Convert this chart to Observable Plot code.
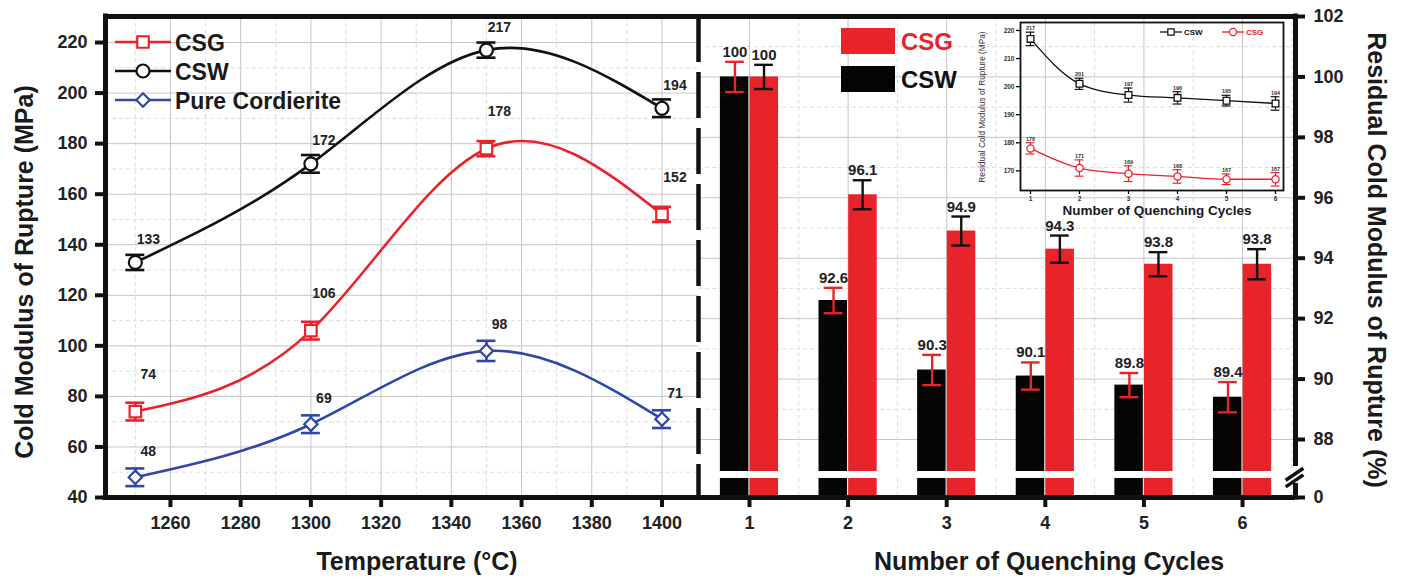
<!DOCTYPE html>
<html><head><meta charset="utf-8">
<script src="https://cdn.jsdelivr.net/npm/d3@7"></script>
<script src="https://cdn.jsdelivr.net/npm/@observablehq/plot@0.6"></script>
<style>
body{margin:0;background:#fff;}
#wrap{position:relative;width:1403px;height:582px;overflow:hidden;background:#fff;}
#wrap > svg{position:absolute;overflow:visible;}
</style></head><body><div id="wrap"></div>
<script>
// ---------- Left panel data: Cold modulus of rupture vs temperature ----------
const temperatures = [1250, 1300, 1350, 1400];
const csgStrength = [74, 106, 178, 152];
const csgStrengthErr = [3.5, 3.5, 3, 3];
const cswStrength = [133, 172, 217, 194];
const cswStrengthErr = [3, 3.5, 3, 3.5];
const pureStrength = [48, 69, 98, 71];
const pureStrengthErr = [3.5, 3.5, 4, 3.5];
const tempTicks = [1260, 1280, 1300, 1320, 1340, 1360, 1380, 1400];
const strengthTicks = [40, 60, 80, 100, 120, 140, 160, 180, 200, 220];

// ---------- Right panel data: residual CMOR (%) vs quenching cycles ----------
const cycles = [1, 2, 3, 4, 5, 6];
const cswResidual = [100, 92.6, 90.3, 90.1, 89.8, 89.4];
const cswResidualErr = [0.5, 0.42, 0.5, 0.45, 0.4, 0.5];
const csgResidual = [100, 96.1, 94.9, 94.3, 93.8, 93.8];
const csgResidualErr = [0.4, 0.48, 0.48, 0.45, 0.4, 0.5];
const residualTicks = [88, 90, 92, 94, 96, 98, 100, 102];
const residualZero = 86.08;           // where the broken axis shows "0"
const residualBreak = [86.71, 86.94]; // axis-break band

// ---------- Inset data: residual CMOR (MPa) vs quenching cycles ----------
const cswInset = [217, 201, 197, 196, 195, 194];
const cswInsetErr = [2.4, 2, 2.5, 2.2, 1.9, 2.4];
const csgInset = [178, 171, 169, 168, 167, 167];
const csgInsetErr = [2, 2.9, 2.8, 2.4, 1.9, 2.4];
const insetTicks = [170, 180, 190, 200, 210, 220];

// ---------- styles ----------
const FONT = '"Liberation Sans", Arial, sans-serif';
const RED = "#e8232a", BLUE = "#2f47a6", BLACK = "#111111", GRID = "#c6c6c6", GRID2 = "#dedede";
const wrap = document.getElementById("wrap");
const plain = d => String(d);
function place(svg, left, top) { svg.style.left = left + "px"; svg.style.top = top + "px"; wrap.appendChild(svg); }

// ================= LEFT PANEL =================
const leftX = [1241.5, 1410.4], leftY = [40, 230.3];
const leftSeries = [
  {name: "CSG", values: csgStrength, errors: csgStrengthErr, color: RED, symbol: "square", r: 6.5, labelDy: -37},
  {name: "CSW", values: cswStrength, errors: cswStrengthErr, color: BLACK, symbol: "circle", r: 6.5, labelDy: -23},
  {name: "Pure Cordierite", values: pureStrength, errors: pureStrengthErr, color: BLUE, symbol: "diamond2", r: 6, labelDy: -26}
];
const leftMarks = [
  Plot.ruleX(tempTicks.map(t => t - 10), {stroke: GRID2, strokeDasharray: "4,3"}),
  Plot.ruleY(strengthTicks.map(v => v + 10).filter(v => v < leftY[1]), {stroke: GRID2, strokeDasharray: "4,3"}),
  Plot.ruleX(tempTicks, {stroke: GRID}),
  Plot.ruleY(strengthTicks.slice(1), {stroke: GRID})
];
for (const s of leftSeries) {
  const rows = temperatures.map((t, i) => ({t, v: s.values[i], e: s.errors[i]}));
  leftMarks.push(
    Plot.line(rows, {x: "t", y: "v", stroke: s.color, strokeWidth: 2.6, curve: "natural"}),
    Plot.ruleX(rows, {x: "t", y1: d => d.v - d.e, y2: d => d.v + d.e, stroke: s.color, strokeWidth: 2.6}),
    Plot.ruleY(rows, {y: d => d.v + d.e, x1: d => d.t - 2.7, x2: d => d.t + 2.7, stroke: s.color, strokeWidth: 2.6}),
    Plot.ruleY(rows, {y: d => d.v - d.e, x1: d => d.t - 2.7, x2: d => d.t + 2.7, stroke: s.color, strokeWidth: 2.6}),
    Plot.dot(rows, {x: "t", y: "v", symbol: s.symbol, r: s.r, stroke: s.color, fill: "white", strokeWidth: 2.2}),
    Plot.text(rows, {x: "t", y: "v", text: d => String(d.v), dx: 13, dy: s.labelDy, fontSize: 14, fontWeight: "bold", fill: "#222"})
  );
}
leftMarks.push(
  Plot.ruleX([leftX[1]], {stroke: BLACK, strokeWidth: 4.5, strokeDasharray: "46,10"}),
  Plot.ruleY([leftY[1]], {stroke: BLACK, strokeWidth: 5}),
  Plot.ruleY([leftY[0]], {stroke: BLACK, strokeWidth: 5, strokeLinecap: "square"}),
  Plot.ruleX([leftX[0]], {stroke: BLACK, strokeWidth: 5, strokeLinecap: "square"}),
  Plot.axisY(strengthTicks, {tickSize: 10, tickPadding: 8, strokeWidth: 4, stroke: BLACK, fontSize: 18, fontWeight: "bold", fill: "#222", tickFormat: plain, label: null}),
  Plot.axisX(tempTicks, {tickSize: 10, tickPadding: 9, strokeWidth: 4, stroke: BLACK, fontSize: 18, fontWeight: "bold", fill: "#222", tickFormat: plain, label: null})
);
const left = Plot.plot({
  width: 700, height: 582, marginLeft: 105, marginRight: 2, marginTop: 16, marginBottom: 85,
  x: {domain: leftX}, y: {domain: leftY},
  style: {fontFamily: FONT, background: "transparent", overflow: "visible"},
  marks: leftMarks
});

// ================= RIGHT PANEL =================
const rightX = [0.483, 6.537], rightY = [residualZero, 102];
const barRows = cycles.map((c, i) => ({c, csw: cswResidual[i], cswE: cswResidualErr[i], csg: csgResidual[i], csgE: csgResidualErr[i]}));
const bw = 0.295, cap = 0.095;
const right = Plot.plot({
  width: 705, height: 582, marginLeft: 0, marginRight: 108, marginTop: 16, marginBottom: 85,
  x: {domain: rightX}, y: {domain: rightY},
  style: {fontFamily: FONT, background: "transparent", overflow: "visible"},
  marks: [
    Plot.ruleY(residualTicks.slice(0, -1).map(v => v + 1), {stroke: GRID2, strokeDasharray: "4,3"}),
    Plot.ruleX(cycles.map(c => c + 0.5), {stroke: GRID2, strokeDasharray: "4,3"}),
    Plot.ruleY(residualTicks.slice(0, -1), {stroke: GRID}),
    Plot.ruleX(cycles, {stroke: GRID}),
    Plot.rectY(barRows, {x1: d => d.c - bw, x2: d => d.c - 0.006, y1: residualZero, y2: "csw", fill: "#050505"}),
    Plot.rectY(barRows, {x1: d => d.c + 0.006, x2: d => d.c + bw, y1: residualZero, y2: "csg", fill: RED}),
    Plot.rect([residualBreak], {x1: rightX[0], x2: rightX[1], y1: d => d[0], y2: d => d[1], fill: "white"}),
    // error bars: red on CSW bars, black on CSG bars
    Plot.ruleX(barRows, {x: d => d.c - bw / 2, y1: d => d.csw - d.cswE, y2: d => d.csw + d.cswE, stroke: RED, strokeWidth: 2.4}),
    Plot.ruleY(barRows, {y: d => d.csw + d.cswE, x1: d => d.c - bw / 2 - cap, x2: d => d.c - bw / 2 + cap, stroke: RED, strokeWidth: 2.4}),
    Plot.ruleY(barRows, {y: d => d.csw - d.cswE, x1: d => d.c - bw / 2 - cap, x2: d => d.c - bw / 2 + cap, stroke: RED, strokeWidth: 2.4}),
    Plot.ruleX(barRows, {x: d => d.c + bw / 2, y1: d => d.csg - d.csgE, y2: d => d.csg + d.csgE, stroke: BLACK, strokeWidth: 2.4}),
    Plot.ruleY(barRows, {y: d => d.csg + d.csgE, x1: d => d.c + bw / 2 - cap, x2: d => d.c + bw / 2 + cap, stroke: BLACK, strokeWidth: 2.4}),
    Plot.ruleY(barRows, {y: d => d.csg - d.csgE, x1: d => d.c + bw / 2 - cap, x2: d => d.c + bw / 2 + cap, stroke: BLACK, strokeWidth: 2.4}),
    Plot.text(barRows, {x: d => d.c - bw / 2, y: d => d.csw + d.cswE, text: d => String(d.csw), dy: -5, lineAnchor: "bottom", fontSize: 15, fontWeight: "bold", fill: "#222"}),
    Plot.text(barRows, {x: d => d.c + bw / 2, y: d => d.csg + d.csgE, text: d => String(d.csg), dy: -5, lineAnchor: "bottom", fontSize: 15, fontWeight: "bold", fill: "#222"}),
    // frame
    Plot.ruleY([rightY[1]], {stroke: BLACK, strokeWidth: 5}),
    Plot.ruleY([rightY[0]], {stroke: BLACK, strokeWidth: 5}),
    Plot.ruleX([rightX[1]], {y1: residualBreak[1] + 0.25, y2: rightY[1], stroke: BLACK, strokeWidth: 5, strokeLinecap: "square"}),
    Plot.ruleX([rightX[1]], {y1: rightY[0], y2: residualBreak[0] - 0.25, stroke: BLACK, strokeWidth: 5, strokeLinecap: "square"}),
    // axis-break slashes
    Plot.link([0, 1], {x1: rightX[1] - 0.1, x2: rightX[1] + 0.08, y1: d => residualBreak[0] - 0.28 + d * 0.22, y2: d => residualBreak[0] + 0.12 + d * 0.22, stroke: BLACK, strokeWidth: 3.5}),
    Plot.axisY([residualZero, ...residualTicks], {anchor: "right", tickSize: 9, tickPadding: 9, strokeWidth: 4, stroke: BLACK, fontSize: 18, fontWeight: "bold", fill: "#222", tickFormat: d => d === residualZero ? "0" : String(d), label: null}),
    Plot.axisX(cycles, {tickSize: 10, tickPadding: 9, strokeWidth: 4, stroke: BLACK, fontSize: 18, fontWeight: "bold", fill: "#222", tickFormat: plain, label: null})
  ]
});

// ================= INSET =================
const insetRows = cycles.map((c, i) => ({c, csw: cswInset[i], cswE: cswInsetErr[i], csg: csgInset[i], csgE: csgInsetErr[i]}));
const insetSeries = [
  {key: "csw", err: "cswE", color: BLACK, symbol: "square", r: 3.8},
  {key: "csg", err: "csgE", color: RED, symbol: "circle", r: 3.6}
];
const insetMarks = [];
for (const s of insetSeries) {
  insetMarks.push(
    Plot.line(insetRows, {x: "c", y: s.key, stroke: s.color, strokeWidth: 1.3, curve: "monotone-x"}),
    Plot.ruleX(insetRows, {x: "c", y1: d => d[s.key] - d[s.err], y2: d => d[s.key] + d[s.err], stroke: s.color, strokeWidth: 1.2}),
    Plot.ruleY(insetRows, {y: d => d[s.key] + d[s.err], x1: d => d.c - 0.09, x2: d => d.c + 0.09, stroke: s.color, strokeWidth: 1.2}),
    Plot.ruleY(insetRows, {y: d => d[s.key] - d[s.err], x1: d => d.c - 0.09, x2: d => d.c + 0.09, stroke: s.color, strokeWidth: 1.2}),
    Plot.dot(insetRows, {x: "c", y: s.key, symbol: s.symbol, r: s.r, stroke: s.color, fill: "white", strokeWidth: 1.3}),
    Plot.text(insetRows, {x: "c", y: d => d[s.key] + d[s.err], text: d => String(d[s.key]), dy: -2, lineAnchor: "bottom", fontSize: 5.5, fontWeight: "bold", fill: "#333"})
  );
}
insetMarks.push(
  Plot.frame({stroke: BLACK, strokeWidth: 1.8}),
  Plot.axisY(insetTicks, {tickSize: 4, tickPadding: 2, strokeWidth: 1.3, fontSize: 6.5, fontWeight: "bold", fill: "#333", tickFormat: plain, label: null}),
  Plot.axisX(cycles, {tickSize: 4, tickPadding: 2, strokeWidth: 1.3, fontSize: 6.5, fontWeight: "bold", fill: "#333", tickFormat: plain, label: null})
);
const inset = Plot.plot({
  width: 330, height: 220, marginLeft: 60, marginRight: 7, marginTop: 22, marginBottom: 30,
  x: {domain: [0.796, 6.163]}, y: {domain: [163, 222.84]},
  style: {fontFamily: FONT, background: "transparent", overflow: "visible"},
  marks: insetMarks
});

place(right, 698, 0);
place(left, 0, 0);
place(inset, 960, 0);

// ================= titles & legends (overlay) =================
const ov = d3.select(wrap).append("svg").attr("width", 1403).attr("height", 582)
  .style("left", "0px").style("top", "0px").style("font-family", FONT).style("pointer-events", "none");
function title(x, y, txt, size, rot, opts = {}) {
  return ov.append("text").attr("transform", `translate(${x},${y}) rotate(${rot})`)
    .attr("text-anchor", opts.anchor || "middle").attr("dominant-baseline", opts.baseline || "central")
    .attr("font-size", size).attr("font-weight", opts.weight || "bold").attr("fill", opts.fill || "#1a1a1a").text(txt);
}
title(24, 272, "Cold Modulus of Rupture (MPa)", 25, -90);
title(1377, 260, "Residual Cold Modulus of Rupture (%)", 25, 90);
title(417, 561, "Temperature (°C)", 25, 0);
title(1049, 561, "Number of Quenching Cycles", 25, 0);
title(982, 107, "Residual Cold Modulus of Rupture (MPa)", 8.3, -90, {weight: "normal", fill: "#333"});
title(1157, 210, "Number of Quenching Cycles", 13.5, 0);

// left legend
const symbolPaths = {square: d3.symbolSquare, circle: d3.symbolCircle, diamond2: d3.symbolDiamond2};
leftSeries.forEach((s, i) => {
  const y = 42 + i * 29;
  ov.append("line").attr("x1", 115).attr("x2", 171).attr("y1", y).attr("y2", y).attr("stroke", s.color).attr("stroke-width", 2.6);
  ov.append("path").attr("transform", `translate(143,${y})`).attr("d", d3.symbol(symbolPaths[s.symbol], Math.PI * s.r * s.r)())
    .attr("fill", "white").attr("stroke", s.color).attr("stroke-width", 2.2);
  title(175, y + 1, s.name, 23, 0, {anchor: "start"});
});

// right legend
[{name: "CSG", fill: RED, text: RED}, {name: "CSW", fill: "#050505", text: "#111"}].forEach((s, i) => {
  const y = 28 + i * 38;
  ov.append("rect").attr("x", 841).attr("y", y).attr("width", 54).attr("height", 26).attr("fill", s.fill);
  title(901, y + 13, s.name, 24, 0, {anchor: "start", fill: s.text});
});

// inset legend
[{name: "CSW", color: BLACK, sym: d3.symbolSquare, x: 1160}, {name: "CSG", color: RED, sym: d3.symbolCircle, x: 1222}].forEach(s => {
  ov.append("line").attr("x1", s.x).attr("x2", s.x + 22).attr("y1", 32).attr("y2", 32).attr("stroke", s.color).attr("stroke-width", 1.3);
  ov.append("path").attr("transform", `translate(${s.x + 11},32)`).attr("d", d3.symbol(s.sym, 40)())
    .attr("fill", "white").attr("stroke", s.color).attr("stroke-width", 1.2);
  title(s.x + 24, 32, s.name, 8, 0, {anchor: "start", fill: s.color});
});
</script></body></html>
